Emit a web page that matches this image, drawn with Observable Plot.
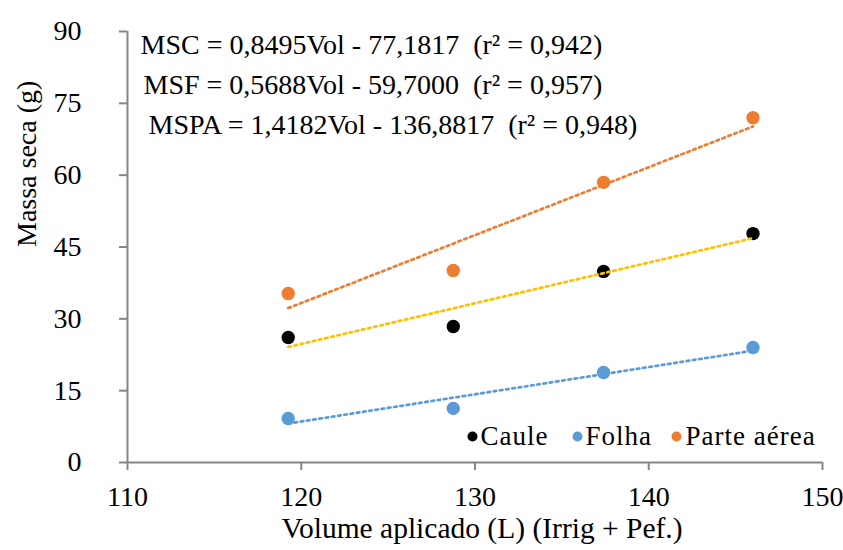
<!DOCTYPE html>
<html>
<head>
<meta charset="utf-8">
<script src="https://cdn.jsdelivr.net/npm/d3@7"></script>
<script src="https://cdn.jsdelivr.net/npm/@observablehq/plot@0.6"></script>
<style>
  body { margin: 0; background: #ffffff; }
  #chart { width: 843px; height: 550px; }
  #chart svg, #chart svg text { font-family: "Liberation Serif", "Times New Roman", "DejaVu Serif", serif !important; }
  #chart svg .legend-label text { letter-spacing: 1px; }
</style>
</head>
<body>
<div id="chart"></div>
<script>
// Dry mass (g) against applied volume (L) for stem, leaf and shoot
const volumes = [119.25, 128.75, 137.4, 146.0];
const seriesNames = ["Caule", "Folha", "Parte aérea"];
const caule = [26.1, 28.4, 39.9, 47.8];
const folha = [9.2, 11.3, 18.8, 24.0];
const parteAerea = [35.3, 40.1, 58.5, 72.0];

// Linear fits: M = slope * Vol - intercept
const eqNames = ["MSC", "MSF", "MSPA"];
const slopes = [0.8495, 0.5688, 1.4182];
const intercepts = [77.1817, 59.7000, 136.8817];
const r2 = [0.942, 0.957, 0.948];

const xTicks = [110, 120, 130, 140, 150];
const yTicks = [0, 15, 30, 45, 60, 75, 90];

const pointColors = ["#000000", "#5B9BD5", "#ED7D31"];
const trendColors = ["#FFC000", "#5B9BD5", "#ED7D31"];

const seriesValues = [caule, folha, parteAerea];

const points = seriesValues.flatMap((vals, i) =>
  vals.map((v, j) => ({series: seriesNames[i], vol: volumes[j], mass: v, color: pointColors[i]}))
);

const vMin = d3.min(volumes), vMax = d3.max(volumes);
const trends = slopes.map((a, i) => [vMin, vMax].map(v => ({vol: v, mass: a * v - intercepts[i]})));

const comma = (x, n) => x.toFixed(n).replace(".", ",");
const equations = eqNames.map((n, i) =>
  `${n} = ${comma(slopes[i], 4)}Vol - ${comma(intercepts[i], 4)}\u00a0 (r² = ${comma(r2[i], 3)})`
);

const FONT = "'Liberation Serif', 'Times New Roman', 'DejaVu Serif', serif";
const AXIS = "#868686";

// layout of the in-plot annotations (pixel offsets from the plot's top-left corner)
const eqOffsets = [[13, 14], [16, 54], [21, 94]];
const legendDotDx = [345, 450, 549];
const legendTextDx = [353, 458, 558];
const legendDy = 405;

const marks = [
  // axis lines
  Plot.ruleX([110], {y1: 0, y2: 90, stroke: AXIS, strokeWidth: 2}),
  Plot.ruleY([0], {x1: 110, x2: 150, stroke: AXIS, strokeWidth: 2}),
  Plot.axisY({ticks: yTicks, tickSize: 8, tickPadding: 38, label: null, fontSize: 28, stroke: AXIS, strokeWidth: 2, fill: "#000"}),
  Plot.axisX({ticks: xTicks, tickSize: 8, tickPadding: 16, label: null, fontSize: 28, stroke: AXIS, strokeWidth: 2, fill: "#000"}),
  // axis titles
  Plot.text(["Massa seca (g)"], {frameAnchor: "left", dx: -100, rotate: -90, fontSize: 28, fill: "#000"}),
  Plot.text(["Volume aplicado (L) (Irrig + Pef.)"], {frameAnchor: "bottom", dx: 7, dy: 75, fontSize: 29.5, fill: "#000"}),
  // observations
  Plot.dot(points, {x: "vol", y: "mass", r: 6.7, fill: "color", stroke: null}),
  // fitted lines
  ...trends.map((t, i) => Plot.line(t, {x: "vol", y: "mass", stroke: trendColors[i], strokeWidth: 2.7, strokeDasharray: "2.7,3.6"})),
  // equations
  ...equations.map((e, i) => Plot.text([e], {
    frameAnchor: "top-left", dx: eqOffsets[i][0], dy: eqOffsets[i][1],
    textAnchor: "start", lineAnchor: "middle", fontSize: 28, fill: "#000"
  })),
  // legend
  ...seriesNames.map((n, i) => Plot.dot([n], {frameAnchor: "top-left", dx: legendDotDx[i], dy: legendDy, r: 5, fill: pointColors[i]})),
  ...seriesNames.map((n, i) => Plot.text([n], {
    frameAnchor: "top-left", dx: legendTextDx[i], dy: legendDy,
    textAnchor: "start", lineAnchor: "middle", fontSize: 27, fill: "#000",
    className: "legend-label"
  }))
];

const chart = Plot.plot({
  width: 843,
  height: 550,
  marginLeft: 127,
  marginRight: 21,
  marginTop: 31,
  marginBottom: 88,
  x: {domain: [110, 150], axis: null},
  y: {domain: [0, 90], axis: null},
  color: {type: "identity"},
  style: {fontFamily: FONT, fontSize: "28px", background: "#ffffff", color: "#000"},
  marks
});

chart.setAttribute("font-family", FONT);
document.getElementById("chart").appendChild(chart);
</script>
</body>
</html>
